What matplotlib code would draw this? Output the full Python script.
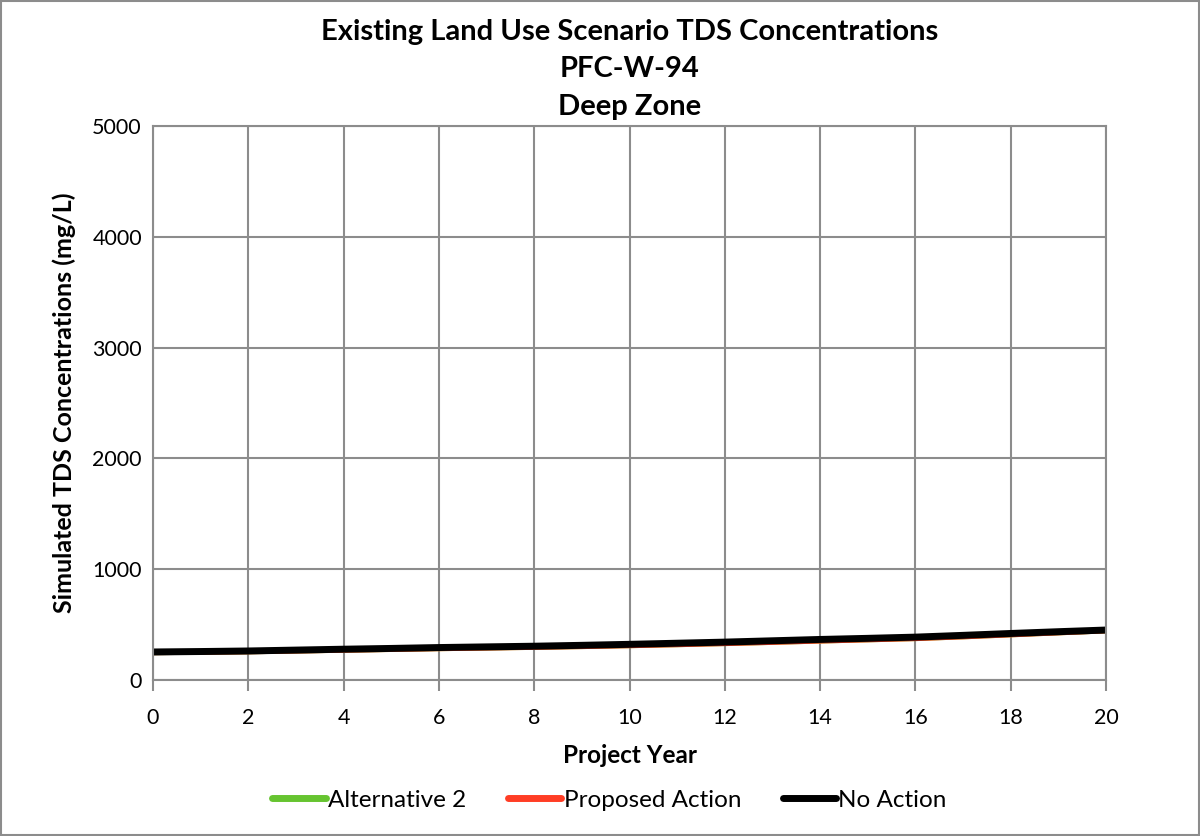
import matplotlib
matplotlib.use("Agg")
import matplotlib.pyplot as plt
import numpy as np

plt.rcParams['font.family'] = ['Lato', 'DejaVu Sans']

years = list(range(0, 21))
no_action = [253, 257, 262, 270, 278, 285, 293, 299, 305, 313, 322, 332, 342, 354, 366, 376, 387, 403, 420, 436, 451]
proposed = [249, 253, 257, 264, 271, 278, 285, 291, 297, 304, 312, 321, 331, 342, 354, 365, 376, 392, 410, 428, 446]
alternative2 = [249, 253, 257, 264, 271, 278, 285, 291, 297, 304, 312, 321, 331, 342, 354, 365, 376, 392, 410, 428, 446]

title_lines = ["Existing Land Use Scenario TDS Concentrations", "PFC-W-94", "Deep Zone"]

fig = plt.figure(figsize=(12, 8.36), dpi=100)
ax = fig.add_axes([0.1275, 0.1866, 0.7942, 0.6627])

ax.plot(years, alternative2, color='#66c430', lw=4, label='Alternative 2', solid_capstyle='round')
ax.plot(years, proposed, color='#ff3d25', lw=4, label='Proposed Action', solid_capstyle='round')
ax.plot(years, no_action, color='black', lw=5, label='No Action', solid_capstyle='round')

ax.set_xlim(0, 20)
ax.set_ylim(0, 5000)
ax.set_xticks(range(0, 21, 2))
ax.set_yticks(range(0, 5001, 1000))
ax.grid(True, color='#8c8c8c', lw=1.5)
ax.set_axisbelow(True)
for s in ax.spines.values():
    s.set_color('#8c8c8c')
    s.set_linewidth(1.5)
ax.tick_params(axis='both', colors='#8c8c8c', length=8, width=1.5, labelsize=15.5, labelcolor='black')
ax.tick_params(axis='x', pad=12)
ax.tick_params(axis='y', length=0, pad=8)

ax.set_xlabel('Project Year', fontsize=17.5, fontweight='bold', labelpad=12)
ax.set_ylabel('Simulated TDS Concentrations (mg/L)', fontsize=18, fontweight='bold', labelpad=12)
ax.set_title('\n'.join(title_lines), fontsize=21, fontweight='bold', linespacing=1.55, pad=8)

leg = fig.legend(loc='center', bbox_to_anchor=(0.508, 0.043), ncol=3, frameon=False,
                 fontsize=17.5, handlelength=2.2, handletextpad=0.1, columnspacing=1.7)
for h in leg.get_lines():
    h.set_linewidth(5)

fig.patches.append(plt.Rectangle((0.001, 0.001), 0.998, 0.998, transform=fig.transFigure,
                                 fill=False, edgecolor='#8c8c8c', lw=1.5))

fig.savefig('out.png', dpi=100)
